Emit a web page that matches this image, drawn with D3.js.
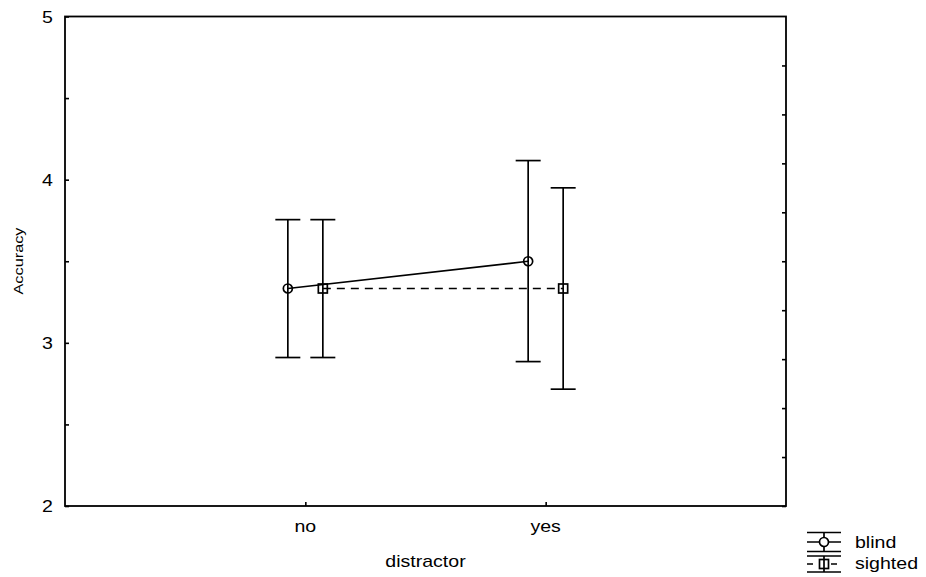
<!DOCTYPE html>
<meta charset="utf-8">
<script src="https://cdn.jsdelivr.net/npm/d3@7"></script>
<style>
body { margin: 0; background: #fff; }
text { font-family: "Liberation Sans", Arial, sans-serif; fill: #000; font-size: 17px; }
.frame { fill: none; stroke: #000; stroke-width: 1.8px; }
.bar { stroke: #000; stroke-width: 1.7px; fill: none; }
</style>
<body>
<script>

// distractor levels
var categories = ["no", "yes"];
var series = ["blind", "sighted"];

// means and interval ends
var blindMean = [3.333, 3.5];
var blindLow = [2.91, 2.885];
var blindHigh = [3.755, 4.117];

var sightedMean = [3.333, 3.333];
var sightedLow = [2.91, 2.716];
var sightedHigh = [3.755, 3.95];

var yTicks = [2, 3, 4, 5];

var width = 926, height = 577;
var plotLeft = 65, plotRight = 786, plotTop = 16.5, plotBottom = 506;

var svg = d3.select("body").append("svg")
    .attr("width", width)
    .attr("height", height);

var x = d3.scalePoint().domain(categories).range([plotLeft, plotRight]).padding(1);
var y = d3.scaleLinear().domain([2, 5]).range([plotBottom, plotTop]);

var offset = {blind: -17.5, sighted: 17.5};

var rows = [];
categories.forEach(function(c, i) {
  rows.push({series: "blind", cat: c, mean: blindMean[i], lo: blindLow[i], hi: blindHigh[i]});
  rows.push({series: "sighted", cat: c, mean: sightedMean[i], lo: sightedLow[i], hi: sightedHigh[i]});
});

function thin(g) {
  g.select(".domain").remove();
  g.selectAll("line").attr("stroke-width", 1.6);
}

// the original font is drawn a bit wide
function widen(sel) {
  sel.each(function() {
    var w = this.getComputedTextLength();
    d3.select(this).attr("textLength", w * 1.15).attr("lengthAdjust", "spacingAndGlyphs");
  });
}

// axes, ticks drawn inward
svg.append("g")
    .attr("transform", "translate(" + plotLeft + ",0)")
    .call(d3.axisRight(y).tickValues(d3.range(2, 5.01, 0.5)).tickSize(4).tickFormat(""))
    .call(thin);

svg.append("g")
    .attr("transform", "translate(" + plotRight + ",0)")
    .call(d3.axisLeft(y).tickValues(d3.range(10).map(function(i) { return 2 + i * 0.3; })).tickSize(4).tickFormat(""))
    .call(thin);

svg.append("g")
    .attr("transform", "translate(0," + plotBottom + ")")
    .call(d3.axisTop(x).tickSize(4).tickFormat(""))
    .call(thin);

svg.append("rect").attr("class", "frame")
    .attr("x", plotLeft).attr("y", plotTop)
    .attr("width", plotRight - plotLeft).attr("height", plotBottom - plotTop);

// tick labels
svg.selectAll(".ylab").data(yTicks).enter().append("text")
    .attr("x", 53)
    .attr("y", function(d) { return y(d) + 6; })
    .attr("text-anchor", "end")
    .text(function(d) { return d; })
    .call(widen);

svg.selectAll(".xlab").data(categories).enter().append("text")
    .attr("x", function(d) { return x(d); })
    .attr("y", 532)
    .attr("text-anchor", "middle")
    .text(function(d) { return d; })
    .call(widen);

svg.append("text")
    .attr("x", (plotLeft + plotRight) / 2)
    .attr("y", 567)
    .attr("text-anchor", "middle")
    .text("distractor")
    .call(widen);

svg.append("text")
    .attr("transform", "translate(23,261) rotate(-90)")
    .attr("text-anchor", "middle")
    .style("font-size", "13px")
    .attr("textLength", 67)
    .attr("lengthAdjust", "spacingAndGlyphs")
    .text("Accuracy");

// connecting lines
var line = d3.line()
    .x(function(d) { return x(d.cat) + offset[d.series]; })
    .y(function(d) { return y(d.mean); });

series.forEach(function(s) {
  svg.append("path")
      .datum(rows.filter(function(d) { return d.series == s; }))
      .attr("class", "bar")
      .attr("stroke-dasharray", s == "sighted" ? "8,6" : null)
      .attr("d", line);
});

// error bars
var cap = 12.5;
var bars = svg.selectAll(".err").data(rows).enter().append("g")
    .attr("transform", function(d) { return "translate(" + (x(d.cat) + offset[d.series]) + ",0)"; });

bars.append("line").attr("class", "bar")
    .attr("y1", function(d) { return y(d.lo); })
    .attr("y2", function(d) { return y(d.hi); });
bars.append("line").attr("class", "bar")
    .attr("x1", -cap).attr("x2", cap)
    .attr("y1", function(d) { return y(d.hi); })
    .attr("y2", function(d) { return y(d.hi); });
bars.append("line").attr("class", "bar")
    .attr("x1", -cap).attr("x2", cap)
    .attr("y1", function(d) { return y(d.lo); })
    .attr("y2", function(d) { return y(d.lo); });

bars.filter(function(d) { return d.series == "blind"; }).append("circle")
    .attr("class", "bar")
    .attr("cy", function(d) { return y(d.mean); })
    .attr("r", 4.5);

bars.filter(function(d) { return d.series == "sighted"; }).append("rect")
    .attr("class", "bar")
    .attr("x", -4.5).attr("width", 9).attr("height", 9)
    .attr("y", function(d) { return y(d.mean) - 4.5; });

// legend
var leg = svg.append("g").attr("transform", "translate(824,0)");
var lx = 17;
// blind
leg.append("line").attr("class", "bar").attr("x1", -lx).attr("x2", lx).attr("y1", 532.5).attr("y2", 532.5);
leg.append("line").attr("class", "bar").attr("x1", -lx).attr("x2", lx).attr("y1", 551.5).attr("y2", 551.5);
leg.append("line").attr("class", "bar").attr("x1", -lx).attr("x2", lx).attr("y1", 542).attr("y2", 542);
leg.append("line").attr("class", "bar").attr("y1", 532.5).attr("y2", 551.5);
leg.append("circle").attr("class", "bar").attr("cy", 542).attr("r", 4.5).style("fill", "#fff");
// sighted
leg.append("line").attr("class", "bar").attr("x1", -lx).attr("x2", lx).attr("y1", 556).attr("y2", 556);
leg.append("line").attr("class", "bar").attr("x1", -lx).attr("x2", lx).attr("y1", 572).attr("y2", 572);
leg.append("line").attr("class", "bar").attr("y1", 556).attr("y2", 572);
leg.append("line").attr("class", "bar").attr("x1", -lx).attr("x2", lx).attr("y1", 564).attr("y2", 564)
    .attr("stroke-dasharray", "6,6");
leg.append("rect").attr("class", "bar").attr("x", -4.5).attr("y", 559.5).attr("width", 9).attr("height", 9).style("fill", "#fff");
leg.append("line").attr("class", "bar").attr("y1", 559.5).attr("y2", 568.5);

leg.selectAll(".lt").data(series).enter().append("text")
    .attr("x", 31)
    .attr("y", function(d, i) { return i == 0 ? 548 : 569; })
    .text(function(d) { return d; })
    .call(widen);

</script>
</body>
